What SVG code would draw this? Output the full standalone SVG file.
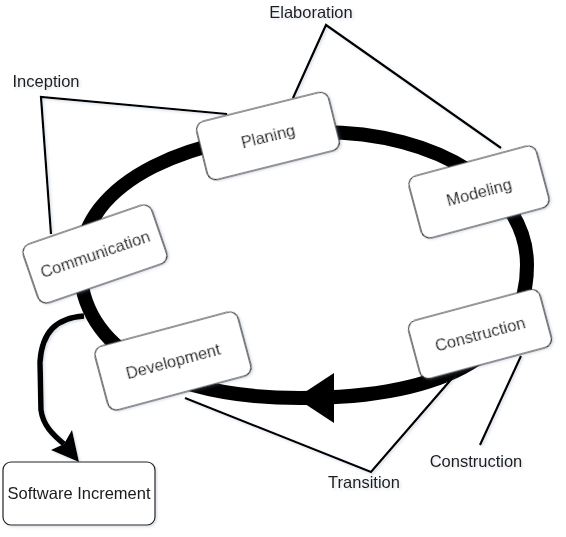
<svg xmlns="http://www.w3.org/2000/svg" width="566" height="537" viewBox="0 0 566 537">
<style>
.box{fill:#ffffff;stroke:#222222;stroke-width:1.2}
.lbl{font-family:"Liberation Sans",Arial,sans-serif;font-size:16.5px;fill:#1a1a1a;text-anchor:middle}
.brk{fill:none;stroke:#000000;stroke-width:2.2;stroke-linejoin:miter}
</style>
<defs>
<filter id="sh" x="-20%" y="-20%" width="140%" height="140%">
<feDropShadow dx="1.5" dy="1.5" stdDeviation="1.2" flood-color="#6a7a99" flood-opacity="0.25"/>
</filter>
</defs>
<rect width="566" height="537" fill="#ffffff"/>
<g id="connectors">
<path d="M 80 265 C 80 180 195 132 320 132 C 440 132 527 190 527 265 C 527 350 450 398 300 398 C 170 398 80 350 80 265 Z" fill="none" stroke="#000" stroke-width="14"/>
<polygon points="296,398 334,373 334,423" fill="#000"/>
<g filter="url(#sh)">
<polyline class="brk" points="227,114 41,97 51,234"/>
<polyline class="brk" points="293,98 326,25 501,148"/>
<polyline class="brk" points="521,356 480,445"/>
<polyline class="brk" points="185,398 371,472 455,375"/>
<path d="M 84 316 C 56 318 42 332 40 362 L 41 410 C 43 425 52 434 64 444" fill="none" stroke="#000" stroke-width="5.5"/>
<polygon points="79,462 51,450 64,444 72,430" fill="#000"/>
</g>
</g>
<g id="planing" filter="url(#sh)" transform="translate(268,136) rotate(-14)">
<rect class="box" x="-68" y="-30" width="136" height="60" rx="9"/>
<text class="lbl" x="0" y="6">Planing</text>
</g>
<g id="modeling" filter="url(#sh)" transform="translate(479,192) rotate(-15)">
<rect class="box" x="-66" y="-32" width="132" height="64" rx="9"/>
<text class="lbl" x="0" y="6">Modeling</text>
</g>
<g id="communication" filter="url(#sh)" transform="translate(95,254) rotate(-19)">
<rect class="box" x="-68" y="-31" width="136" height="62" rx="9"/>
<text class="lbl" x="0" y="6">Communication</text>
</g>
<g id="development" filter="url(#sh)" transform="translate(173,361) rotate(-15)">
<rect class="box" x="-74" y="-33" width="148" height="66" rx="9"/>
<text class="lbl" x="0" y="6">Development</text>
</g>
<g id="construction" filter="url(#sh)" transform="translate(480,334) rotate(-15)">
<rect class="box" x="-68" y="-30" width="136" height="60" rx="9"/>
<text class="lbl" x="0" y="6">Construction</text>
</g>
<g id="software-increment" filter="url(#sh)">
<rect class="box" x="3" y="462" width="152" height="63" rx="8"/>
<text class="lbl" x="79" y="499">Software Increment</text>
</g>
<g id="labels" filter="url(#sh)">
<text class="lbl" x="311" y="18">Elaboration</text>
<text class="lbl" x="46" y="87">Inception</text>
<text class="lbl" x="364" y="488">Transition</text>
<text class="lbl" x="476" y="467">Construction</text>
</g>
</svg>
